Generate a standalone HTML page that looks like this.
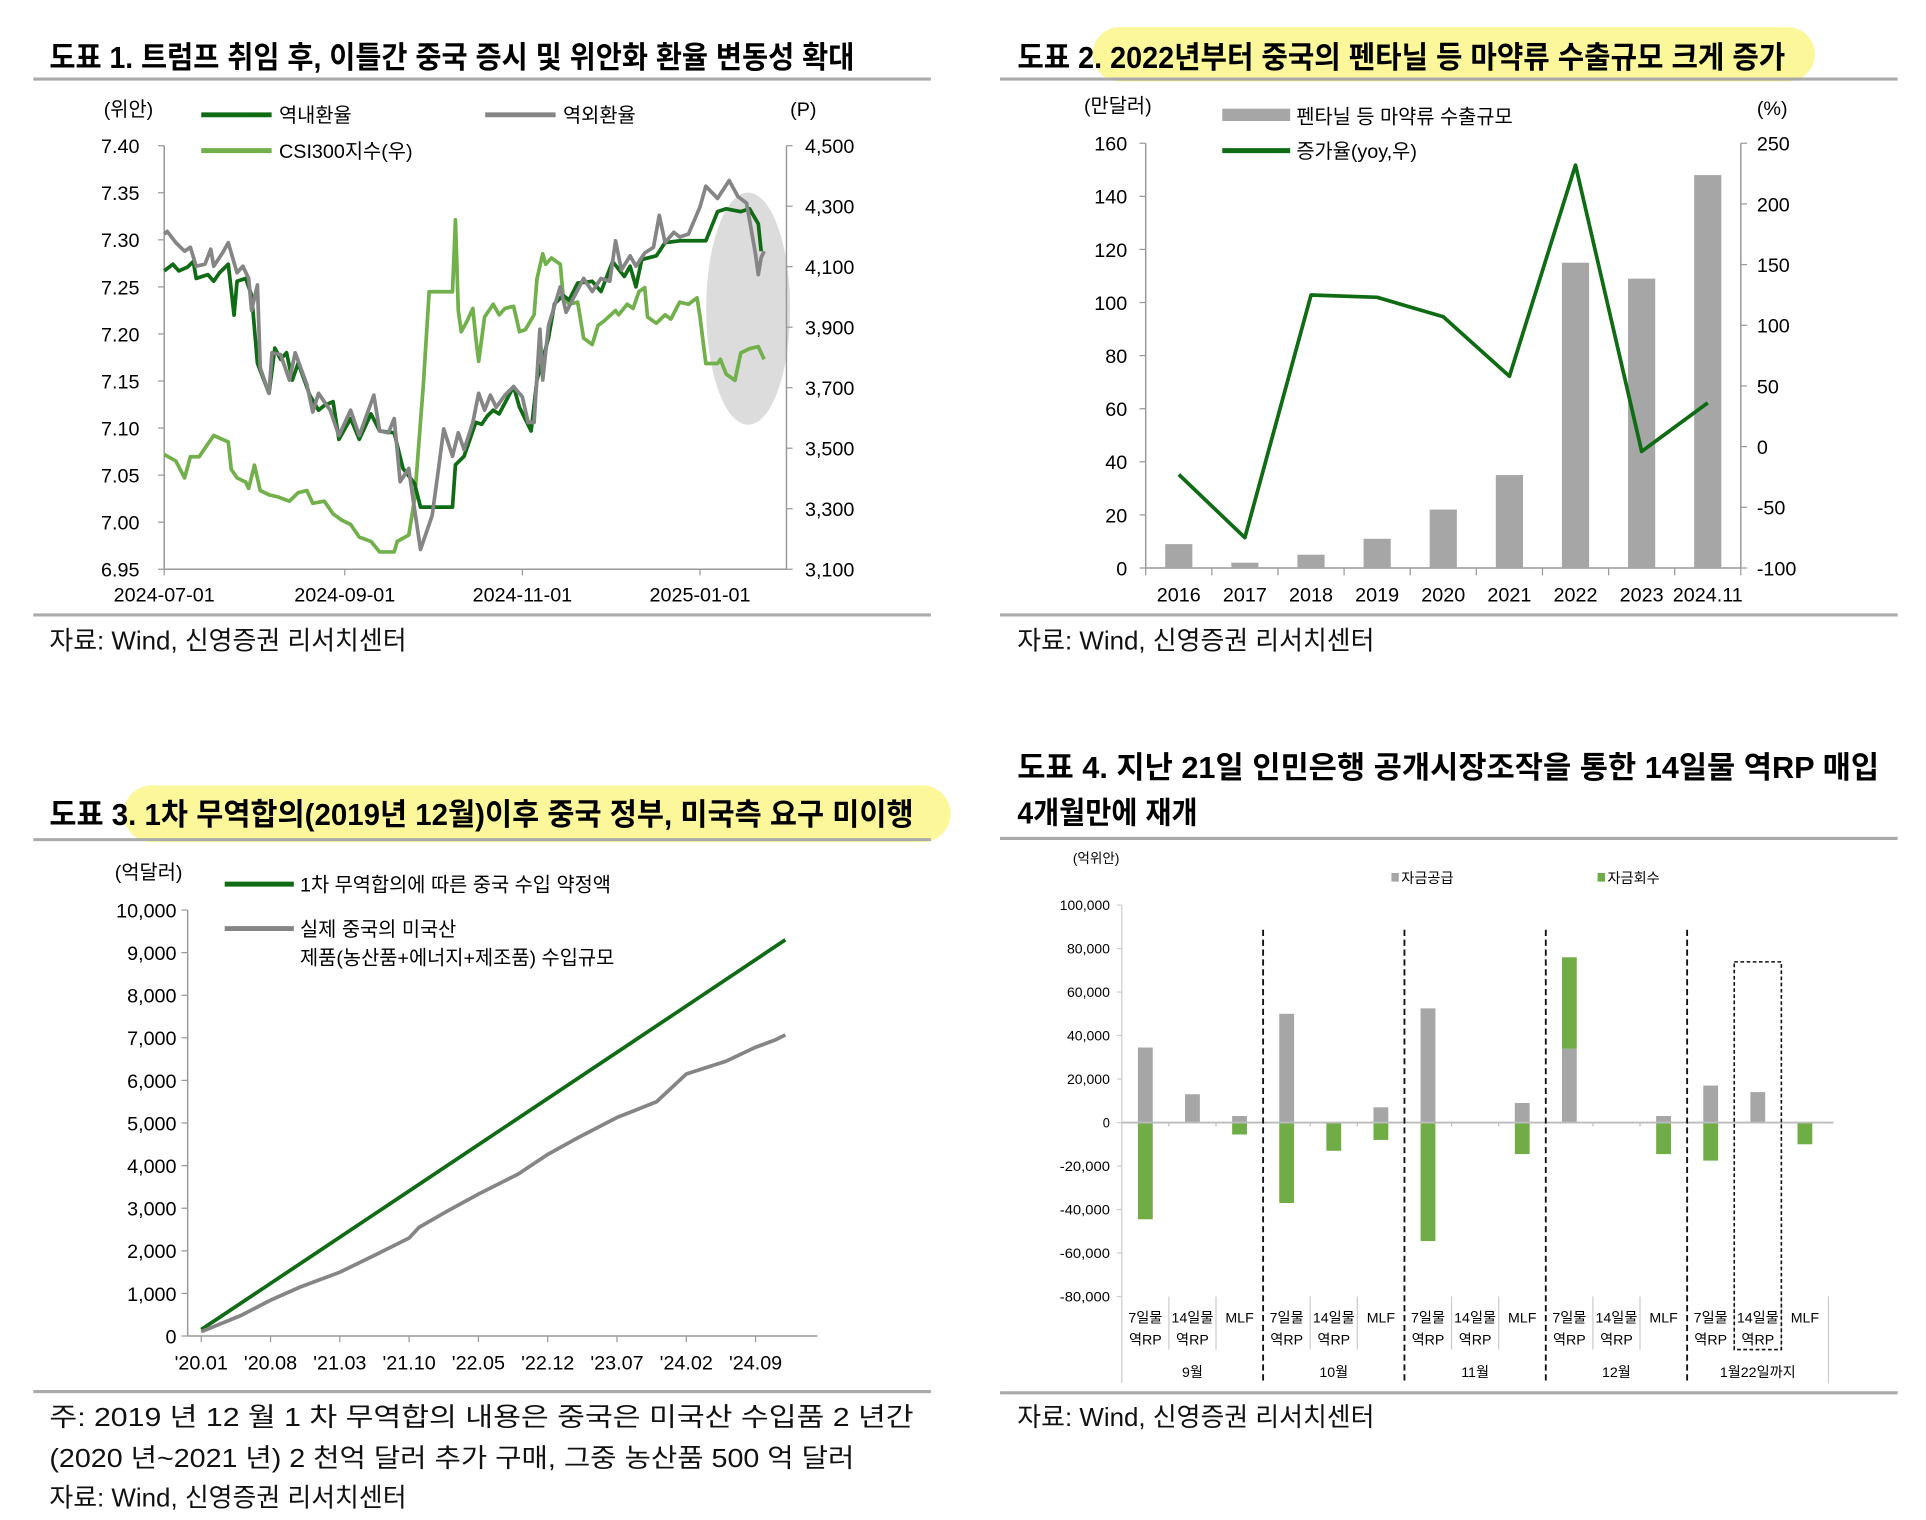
<!DOCTYPE html>
<html><head><meta charset="utf-8"><style>
html,body{margin:0;padding:0;background:#fff;}
svg{display:block;font-family:"Liberation Sans","Noto Sans CJK KR",sans-serif;}
</style></head><body>
<svg id="s" width="1926" height="1520" viewBox="0 0 1560 1231" preserveAspectRatio="none" xmlns="http://www.w3.org/2000/svg">
<!-- highlights -->
<rect x="885" y="22" width="585" height="44" rx="22" fill="#fbf79a"/>
<rect x="100" y="636" width="670" height="46" rx="23" fill="#fbf79a"/>
<!-- titles -->
<text x="40" y="55" font-size="25" font-weight="bold" textLength="652" lengthAdjust="spacingAndGlyphs">도표 1. 트럼프 취임 후, 이틀간 중국 증시 및 위안화 환율 변동성 확대</text>
<text x="824" y="55" font-size="25" font-weight="bold" textLength="622" lengthAdjust="spacingAndGlyphs">도표 2. 2022년부터 중국의 펜타닐 등 마약류 수출규모 크게 증가</text>
<text x="40" y="668" font-size="25" font-weight="bold" textLength="700" lengthAdjust="spacingAndGlyphs">도표 3. 1차 무역합의(2019년 12월)이후 중국 정부, 미국측 요구 미이행</text>
<text x="824" y="630" font-size="25" font-weight="bold" textLength="698" lengthAdjust="spacingAndGlyphs">도표 4. 지난 21일 인민은행 공개시장조작을 통한 14일물 역RP 매입</text>
<text x="824" y="667" font-size="25" font-weight="bold" textLength="146" lengthAdjust="spacingAndGlyphs">4개월만에 재개</text>
<g stroke="#aaa" stroke-width="2.5">
<line x1="27" y1="64" x2="754" y2="64"/><line x1="27" y1="498" x2="754" y2="498"/>
<line x1="810" y1="64" x2="1537" y2="64"/><line x1="810" y1="498" x2="1537" y2="498"/>
<line x1="27" y1="680" x2="754" y2="680"/><line x1="27" y1="1127" x2="754" y2="1127"/>
<line x1="810" y1="679" x2="1537" y2="679"/><line x1="810" y1="1128" x2="1537" y2="1128"/>
</g>
<g font-size="21" fill="#111">
<text x="40" y="526">자료: Wind, 신영증권 리서치센터</text>
<text x="824" y="526">자료: Wind, 신영증권 리서치센터</text>
<text x="824" y="1155">자료: Wind, 신영증권 리서치센터</text>
<text x="40" y="1155" textLength="700" lengthAdjust="spacingAndGlyphs">주: 2019 년 12 월 1 차 무역합의 내용은 중국은 미국산 수입품 2 년간</text>
<text x="40" y="1188" textLength="652" lengthAdjust="spacingAndGlyphs">(2020 년~2021 년) 2 천억 달러 추가 구매, 그중 농산품 500 억 달러</text>
<text x="40" y="1220">자료: Wind, 신영증권 리서치센터</text>
</g>
<g id="c1"></g>
<g id="c2"></g>
<g id="c3"></g>
<g id="c4"></g>
</svg>
<script>
// ===== Chart 1 data =====
const c1OnDays=[0,3,5,8,10,11,15,17,19,22,24,25,28,30,32,36,38,40,42,44,46,50,53,55,58,60,64,67,71,74,79,82,86,88,99,100,103,107,109,111,113,115,120,122,126,128,130,132,134,137,139,142,147,150,154,158,160,162,164,169,172,177,186,190,193,198,201,204,205];
const c1OnVals=[7.267,7.274,7.267,7.271,7.277,7.259,7.263,7.256,7.265,7.274,7.220,7.256,7.259,7.241,7.169,7.137,7.185,7.173,7.180,7.151,7.169,7.135,7.119,7.124,7.128,7.088,7.110,7.088,7.115,7.097,7.095,7.057,7.041,7.016,7.016,7.061,7.070,7.106,7.104,7.113,7.119,7.115,7.144,7.122,7.097,7.151,7.173,7.196,7.232,7.241,7.236,7.254,7.256,7.245,7.277,7.261,7.272,7.250,7.279,7.283,7.297,7.299,7.299,7.330,7.333,7.330,7.333,7.317,7.288];
const c1OffDays=[0,1,4,7,9,11,14,16,17,20,22,23,25,27,29,30,32,33,36,37,40,43,45,49,51,53,57,60,64,67,72,74,77,79,81,84,85,88,92,94,96,99,101,103,106,108,110,112,114,117,120,123,125,127,129,130,132,136,138,141,144,147,150,153,155,157,160,162,165,168,170,172,175,177,180,184,186,190,194,197,200,203,204,205,206];
const c1OffVals=[7.306,7.309,7.297,7.288,7.292,7.272,7.274,7.290,7.272,7.286,7.297,7.286,7.265,7.272,7.259,7.225,7.252,7.164,7.137,7.180,7.178,7.151,7.180,7.146,7.117,7.137,7.119,7.092,7.119,7.092,7.135,7.097,7.095,7.110,7.043,7.057,7.034,6.971,7.007,7.052,7.099,7.070,7.095,7.077,7.106,7.137,7.119,7.135,7.122,7.135,7.144,7.133,7.106,7.106,7.205,7.151,7.209,7.250,7.223,7.241,7.259,7.245,7.259,7.256,7.299,7.268,7.283,7.272,7.286,7.292,7.326,7.297,7.308,7.303,7.306,7.335,7.357,7.344,7.363,7.346,7.339,7.286,7.263,7.281,7.288];
const c1CsiDays=[0,4,7,9,12,14,17,22,23,25,28,29,31,33,36,39,43,46,49,51,55,58,61,64,67,71,74,79,80,84,86,89,91,99,100,101,102,104,106,107,108,110,113,115,117,120,122,124,127,128,130,131,133,136,137,139,142,144,147,149,151,155,156,159,161,163,165,166,169,172,174,177,180,183,184,186,190,191,193,196,198,201,204,206];
const c1CsiVals=[3479,3458,3402,3472,3472,3500,3542,3521,3430,3402,3388,3367,3444,3360,3346,3339,3325,3353,3360,3318,3325,3283,3262,3248,3206,3192,3157,3157,3192,3213,3332,3710,4017,4017,4255,3955,3885,3920,3962,3864,3787,3934,3976,3941,3962,3969,3885,3892,3941,4059,4143,4108,4129,4108,4004,3976,3983,3864,3843,3906,3920,3955,3941,3976,3962,4017,4031,3934,3913,3941,3927,3983,3976,3997,3934,3780,3780,3794,3745,3724,3815,3829,3836,3794];
const c1LeftTicks=["7.40","7.35","7.30","7.25","7.20","7.15","7.10","7.05","7.00","6.95"];
const c1RightTicks=["4,500","4,300","4,100","3,900","3,700","3,500","3,300","3,100"];
const c1DateTicks=["2024-07-01","2024-09-01","2024-11-01","2025-01-01"];
const c1DateDays=[0,62,123,184];
// ===== Chart 2 data =====
const c2Cats=["2016","2017","2018","2019","2020","2021","2022","2023","2024.11"];
const c2Bars=[9,2,5,11,22,35,115,109,148];
const c2Growth=[-23,-75,125,123,107,58,232,-4,36];
const c2LeftTicks=[0,20,40,60,80,100,120,140,160];
const c2RightTicks=[-100,-50,0,50,100,150,200,250];
// ===== Chart 3 data =====
const c3Months=[0,12,24,36,48,59];
const c3Pledge=[150,2010,3870,5730,7590,9300];
const c3ActMonths=[0,4,7,10,14,18,21,22,25,28,32,35,38,42,46,49,53,56,58,59];
const c3Actual=[100,480,840,1150,1500,1950,2300,2550,2950,3330,3800,4260,4650,5130,5500,6150,6450,6780,6950,7070];
const c3YTicks=[0,1000,2000,3000,4000,5000,6000,7000,8000,9000,10000];
const c3XTicks=["'20.01","'20.08","'21.03","'21.10","'22.05","'22.12","'23.07","'24.02","'24.09"];
const c3XTickMonths=[0,7,14,21,28,35,42,49,56];
// ===== Chart 4 data =====
const c4Cats=["7일물|역RP","14일물|역RP","MLF","7일물|역RP","14일물|역RP","MLF","7일물|역RP","14일물|역RP","MLF","7일물|역RP","14일물|역RP","MLF","7일물|역RP","14일물|역RP","MLF"];
const c4Groups=["9월","10월","11월","12월","1월22일까지"];
const c4Supply=[34500,13000,3000,50000,0,7000,52500,0,9000,34000,0,3000,17000,14000,0];
const c4Withdraw=[-44500,0,-5500,-37000,-13000,-8000,-54500,0,-14500,42000,0,-14500,-17500,0,-10000];
const c4Ticks=[100000,80000,60000,40000,20000,0,-20000,-40000,-60000,-80000];

const NS="http://www.w3.org/2000/svg";
function mk(parent,tag,attrs,txt){const e=document.createElementNS(NS,tag);for(const k in attrs)e.setAttribute(k,attrs[k]);if(txt!==undefined)e.textContent=txt;parent.appendChild(e);return e;}
function fmt(v){return v.toLocaleString('en-US');}

// ---------- Chart 1 ----------
(function(){
const g=document.getElementById('c1');
const X0=133,X1=637,Y0=118,Y1=461;
const dx=d=>X0+d*(567-133)/184;
const yl=v=>Y1-(v-6.95)/(0.45)*(Y1-Y0);
const yr=v=>Y1-(v-3100)/1400*(Y1-Y0);
let e=mk(g,'ellipse',{cx:606,cy:250,rx:34,ry:94,fill:'#dcdcdc'});


mk(g,'line',{x1:X0,y1:Y0,x2:X0,y2:Y1,stroke:'#999','stroke-width':1.2});
mk(g,'line',{x1:X1,y1:Y0,x2:X1,y2:Y1,stroke:'#999','stroke-width':1.2});
mk(g,'line',{x1:X0,y1:Y1,x2:X1,y2:Y1,stroke:'#999','stroke-width':1.2});
c1LeftTicks.forEach(t=>{const y=yl(parseFloat(t));mk(g,'line',{x1:X0-5,y1:y,x2:X0,y2:y,stroke:'#999'});
 e=mk(g,'text',{x:113,y:y+6,'font-size':16,'text-anchor':'end'},t);
 
 });
c1RightTicks.forEach(t=>{const y=yr(parseFloat(t.replace(',','')));mk(g,'line',{x1:X1,y1:y,x2:X1+5,y2:y,stroke:'#999'});
 e=mk(g,'text',{x:652,y:y+6,'font-size':16},t);
 
 });
c1DateTicks.forEach((t,i)=>{const x=dx(c1DateDays[i]);mk(g,'line',{x1:x,y1:Y1,x2:x,y2:Y1+5,stroke:'#999'});
 e=mk(g,'text',{x:x,y:487,'font-size':16,'text-anchor':'middle'},t);
 
 });
function line(days,vals,yf,col,name){const p=days.map((d,i)=>(i?'L':'M')+dx(d).toFixed(1)+','+yf(vals[i]).toFixed(1)).join('');
 const el=mk(g,'path',{d:p,fill:'none',stroke:col,'stroke-width':3,'stroke-linejoin':'round'});
 
 }
line(c1CsiDays,c1CsiVals,yr,'#72b04b','csi300-line');
line(c1OnDays,c1OnVals,yl,'#0f6b14','onshore-rate-line');
line(c1OffDays,c1OffVals,yl,'#858585','offshore-rate-line');
mk(g,'text',{x:84,y:94,'font-size':16},'(위안)');
mk(g,'text',{x:640,y:94,'font-size':16},'(P)');
const leg=[[163,93,'#0f6b14','역내환율'],[393,93,'#858585','역외환율'],[163,122,'#72b04b','CSI300지수(우)']];
leg.forEach(l=>{const lg=mk(g,'g',{});
 mk(lg,'line',{x1:l[0],y1:l[1],x2:l[0]+57,y2:l[1],stroke:l[2],'stroke-width':4});
 mk(lg,'text',{x:l[0]+63,y:l[1]+6,'font-size':16},l[3]);});
})();

// ---------- Chart 2 ----------
(function(){
const g=document.getElementById('c2');
const X0=928,X1=1410,Y0=116,Y1=460;
const step=(X1-X0)/9;
const cx=i=>X0+step*(i+0.5);
const yl=v=>Y1-v/160*(Y1-Y0);
const yr=v=>Y1-(v+100)/350*(Y1-Y0);
let e;
mk(g,'line',{x1:X0,y1:Y0,x2:X0,y2:Y1,stroke:'#999','stroke-width':1.2});
mk(g,'line',{x1:X1,y1:Y0,x2:X1,y2:Y1,stroke:'#999','stroke-width':1.2});
mk(g,'line',{x1:X0,y1:Y1,x2:X1,y2:Y1,stroke:'#999','stroke-width':1.2});
c2LeftTicks.forEach(t=>{const y=yl(t);mk(g,'line',{x1:X0-5,y1:y,x2:X0,y2:y,stroke:'#999'});
 e=mk(g,'text',{x:913,y:y+6,'font-size':16,'text-anchor':'end'},String(t));
 
 });
c2RightTicks.forEach(t=>{const y=yr(t);mk(g,'line',{x1:X1,y1:y,x2:X1+5,y2:y,stroke:'#999'});
 e=mk(g,'text',{x:1423,y:y+6,'font-size':16},String(t));
 
 });
for(let i=0;i<=9;i++){const x=X0+step*i;mk(g,'line',{x1:x,y1:Y1,x2:x,y2:Y1+6,stroke:'#999'});}
c2Cats.forEach((c,i)=>{const y=yl(c2Bars[i]);
 e=mk(g,'rect',{x:cx(i)-11,y:y,width:22,height:Y1-y,fill:'#a6a6a6'});
 
 
 e=mk(g,'text',{x:cx(i),y:487,'font-size':16,'text-anchor':'middle'},c);
 
 });
e=mk(g,'path',{d:c2Growth.map((v,i)=>(i?'L':'M')+cx(i).toFixed(1)+','+yr(v).toFixed(1)).join(''),fill:'none',stroke:'#0f6b14','stroke-width':3,'stroke-linejoin':'round'});


mk(g,'text',{x:878,y:91,'font-size':16},'(만달러)');
mk(g,'text',{x:1423,y:93,'font-size':16},'(%)');
let lg=mk(g,'g',{});
mk(lg,'rect',{x:990,y:88,width:55,height:10,fill:'#a6a6a6'});mk(lg,'text',{x:1050,y:100,'font-size':16},'펜타닐 등 마약류 수출규모');
lg=mk(g,'g',{});
mk(lg,'line',{x1:990,y1:122,x2:1045,y2:122,stroke:'#0f6b14','stroke-width':4});mk(lg,'text',{x:1050,y:128,'font-size':16},'증가율(yoy,우)');
})();

// ---------- Chart 3 ----------
(function(){
const g=document.getElementById('c3');
const X0=152,X1=662,Y0=737,Y1=1082;
const xm=m=>163+m*(612-163)/56;
const y=v=>Y1-v/10000*(Y1-Y0);
let e;
mk(g,'line',{x1:X0,y1:Y0,x2:X0,y2:Y1,stroke:'#999','stroke-width':1.2});
mk(g,'line',{x1:X0,y1:Y1,x2:X1,y2:Y1,stroke:'#999','stroke-width':1.2});
c3YTicks.forEach(t=>{const yy=y(t);mk(g,'line',{x1:X0-5,y1:yy,x2:X0,y2:yy,stroke:'#999'});
 e=mk(g,'text',{x:143,y:yy+6,'font-size':16,'text-anchor':'end'},fmt(t));
 
 });
c3XTicks.forEach((t,i)=>{const x=xm(c3XTickMonths[i]);mk(g,'line',{x1:x,y1:Y1,x2:x,y2:Y1+5,stroke:'#999'});
 e=mk(g,'text',{x:x,y:1109,'font-size':16,'text-anchor':'middle'},t);
 
 });
e=mk(g,'path',{d:c3Months.map((m,i)=>(i?'L':'M')+xm(m).toFixed(1)+','+y(c3Pledge[i]).toFixed(1)).join(''),fill:'none',stroke:'#0f6b14','stroke-width':3});


e=mk(g,'path',{d:c3ActMonths.map((m,i)=>(i?'L':'M')+xm(m).toFixed(1)+','+y(c3Actual[i]).toFixed(1)).join(''),fill:'none',stroke:'#858585','stroke-width':3});


mk(g,'text',{x:93,y:712,'font-size':16},'(억달러)');
let lg=mk(g,'g',{});
mk(lg,'line',{x1:182,y1:716,x2:238,y2:716,stroke:'#0f6b14','stroke-width':4});mk(lg,'text',{x:243,y:722,'font-size':16},'1차 무역합의에 따른 중국 수입 약정액');
lg=mk(g,'g',{});
mk(lg,'line',{x1:182,y1:752,x2:238,y2:752,stroke:'#858585','stroke-width':4});mk(lg,'text',{x:243,y:758,'font-size':16},'실제 중국의 미국산');mk(lg,'text',{x:243,y:781,'font-size':16},'제품(농산품+에너지+제조품) 수입규모');
})();

// ---------- Chart 4 ----------
(function(){
const g=document.getElementById('c4');
const X0=908.6,X1=1481,Y0=733,Y1=1050;
const step=(X1-X0)/15;
const cx=i=>X0+step*(i+0.5);
const y=v=>Y1-(v+80000)/180000*(Y1-Y0);
let e;
mk(g,'line',{x1:X0,y1:Y0,x2:X0,y2:1120,stroke:'#ccc','stroke-width':1});
c4Ticks.forEach(t=>{const yy=y(t);mk(g,'line',{x1:X0-4,y1:yy,x2:X0,y2:yy,stroke:'#ccc'});
 e=mk(g,'text',{x:899,y:yy+4,'font-size':11,'text-anchor':'end',textLength:String(fmt(t)).length*5.8,lengthAdjust:'spacingAndGlyphs'},fmt(t));
 
 });
c4Cats.forEach((c,i)=>{
 const s=c4Supply[i],w=c4Withdraw[i],x=cx(i)-6;
 if(s>0){e=mk(g,'rect',{x:x,y:y(s),width:12,height:y(0)-y(s),fill:'#a6a6a6'});
  
  }
 if(w<0){e=mk(g,'rect',{x:x,y:y(0),width:12,height:y(w)-y(0),fill:'#70ad47'});
  
  }
 if(w>0){e=mk(g,'rect',{x:x,y:y(s+w),width:12,height:y(s)-y(s+w),fill:'#70ad47'});
  
  }
 const parts=c.split('|');
 parts.forEach((p,j)=>{e=mk(g,'text',{x:cx(i),y:1071+j*18,'font-size':11.5,'text-anchor':'middle'},p);
  
  });
 if(i%3!==0){const xx=X0+step*i;mk(g,'line',{x1:xx,y1:1050,x2:xx,y2:1093,stroke:'#ccc'});}
});
mk(g,'line',{x1:X0,y1:y(0),x2:X1+4,y2:y(0),stroke:'#bbb','stroke-width':1.5});
for(let i=1;i<15;i++){if(i%3)mk(g,'line',{x1:X0+step*i,y1:y(0),x2:X0+step*i,y2:y(0)+3,stroke:'#bbb'});}
mk(g,'line',{x1:X1,y1:1050,x2:X1,y2:1120,stroke:'#ccc'});
c4Groups.forEach((gr,k)=>{e=mk(g,'text',{x:X0+step*(3*k+1.5),y:1115,'font-size':11.5,'text-anchor':'middle'},gr);
 
 
 if(k>0){const xx=X0+step*3*k;e=mk(g,'line',{x1:xx,y1:753,x2:xx,y2:1120,stroke:'#111','stroke-width':1.5,'stroke-dasharray':'5,3'});
  
  }});
e=mk(g,'rect',{x:X0+step*13,y:779,width:step,height:314,fill:'none',stroke:'#111','stroke-width':1.3,'stroke-dasharray':'3,2'});


mk(g,'text',{x:869,y:699,'font-size':11},'(억위안)');
let lg=mk(g,'g',{});
mk(lg,'rect',{x:1127,y:707,width:6,height:7,fill:'#a6a6a6'});mk(lg,'text',{x:1135,y:715,'font-size':11.5},'자금공급');
lg=mk(g,'g',{});
mk(lg,'rect',{x:1294,y:707,width:6,height:7,fill:'#70ad47'});mk(lg,'text',{x:1302,y:715,'font-size':11.5},'자금회수');
})();
</script>
</body></html>
